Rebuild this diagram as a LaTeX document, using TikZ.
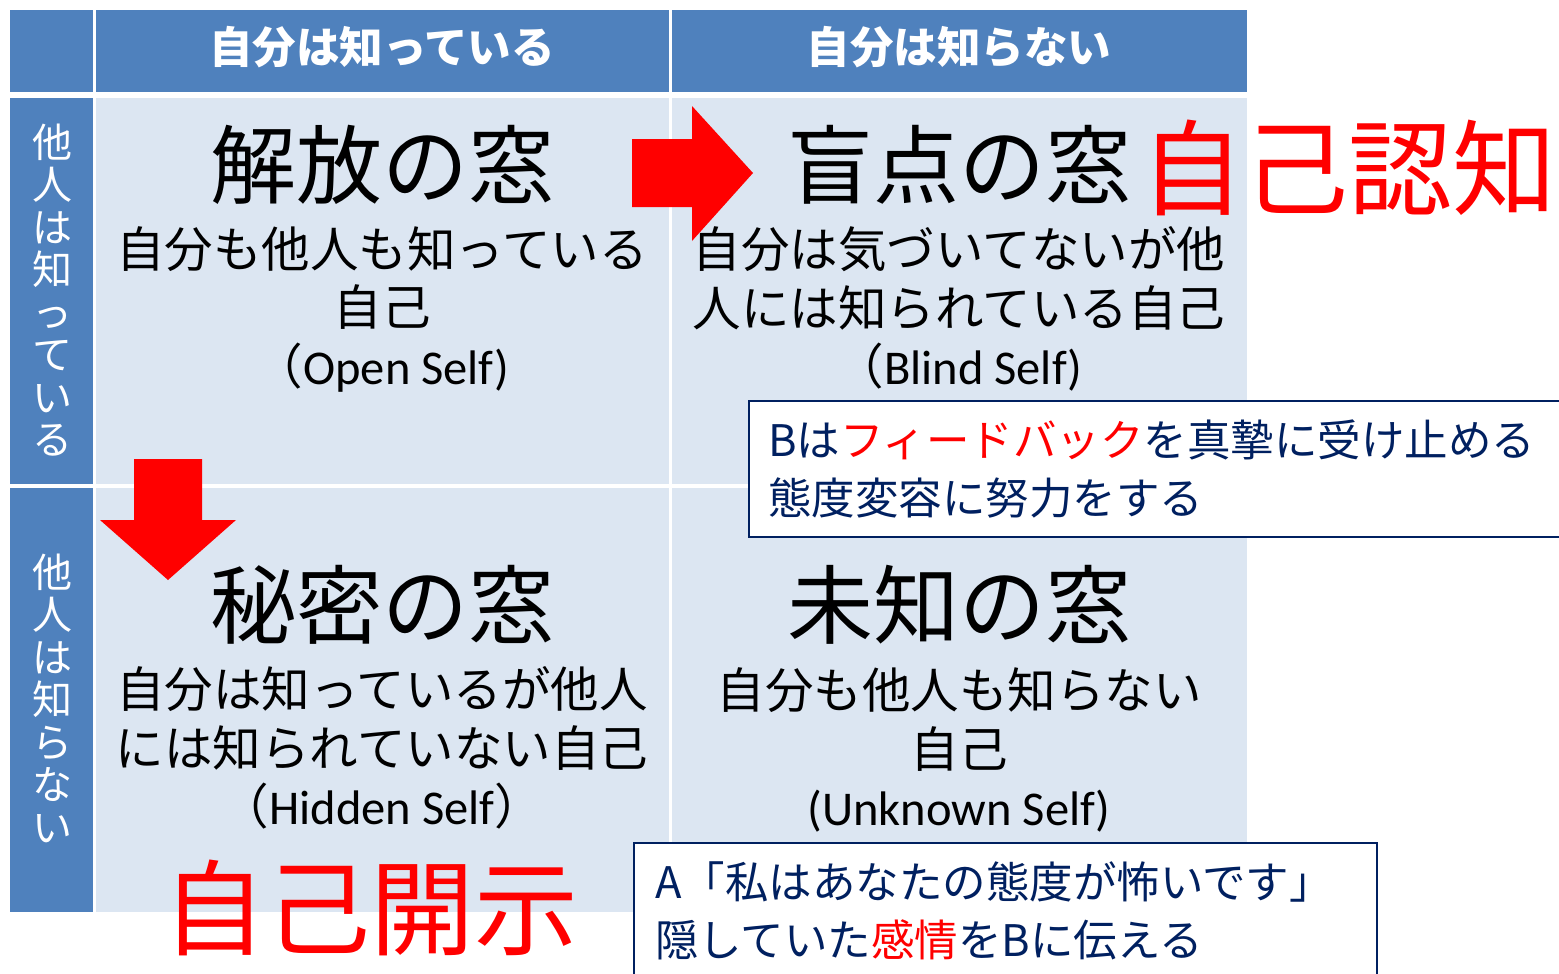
\documentclass[tikz,border=0pt]{standalone}
\usepackage{fontspec}
\setmainfont{Noto Sans CJK JP}
\newfontfamily\lat{Carlito}
\definecolor{hdr}{HTML}{4F81BD}
\definecolor{cellbg}{HTML}{DCE6F2}
\definecolor{navy}{HTML}{002060}
\definecolor{bred}{HTML}{FF0000}
\begin{document}
\begin{tikzpicture}[x=1pt,y=-1pt,
  hdrtext/.style={text=white,font=\fontsize{43.5}{46}\selectfont\bfseries,inner sep=0pt},
  vlabel/.style={text=white,font=\fontsize{40}{42.5}\selectfont,align=center,inner sep=0pt},
  titletext/.style={text=black,font=\fontsize{86}{90}\selectfont,inner sep=0pt},
  subtext/.style={text=black,font=\fontsize{48.5}{58.5}\selectfont,align=center,inner sep=0pt},
  bigred/.style={text=bred,font=\fontsize{104}{110}\selectfont,inner sep=0pt},
  notebox/.style={draw=navy,line width=1.5pt,fill=white},
  notetext/.style={text=navy,font=\fontsize{43.5}{58}\selectfont,align=left,inner sep=0pt,anchor=west},
  redarrow/.style={fill=bred,draw=none}]
\clip (0,0) rectangle (1559,974);
\fill[white] (0,0) rectangle (1559,974);
% header row
\fill[hdr] (10,10) rectangle (93,92);
\fill[hdr] (96,10) rectangle (669,92);
\fill[hdr] (672,10) rectangle (1247,92);
% left labels
\fill[hdr] (10,98) rectangle (93,484);
\fill[hdr] (10,488) rectangle (93,912);
% body cells
\fill[cellbg] (96,98) rectangle (669,484);
\fill[cellbg] (672,98) rectangle (1247,484);
\fill[cellbg] (96,488) rectangle (669,912);
\fill[cellbg] (672,488) rectangle (1247,912);
% header texts
\node[hdrtext] (h1) at (382,47) {自分は知っている};
\node[hdrtext] (h2) at (959,47) {自分は知らない};
% vertical labels
\node[vlabel] (v1) at (52,290) {他\\人\\は\\知\\っ\\て\\い\\る};
\node[vlabel] (v2) at (52,698) {他\\人\\は\\知\\ら\\な\\い};
% arrows
\fill[redarrow] (632,139) -- (692,139) -- (692,106) -- (753,173) -- (692,241) -- (692,207) -- (632,207) -- cycle;
\fill[redarrow] (134,459) -- (202,459) -- (202,520) -- (236,520) -- (168,580) -- (100,520) -- (134,520) -- cycle;
% quadrant texts
\node[titletext] (t1) at (382,165) {解放の窓};
\node[subtext] (s1) at (382,309) {自分も他人も知っている\\自己\\（{\lat Open Self)}};
\node[titletext] (t2) at (959,165) {盲点の窓};
\node[subtext] (s2) at (959,309) {自分は気づいてないが他\\人には知られている自己\\（{\lat Blind Self)}};
\node[titletext] (t3) at (382,605) {秘密の窓};
\node[subtext] (s3) at (382,748) {自分は知っているが他人\\には知られていない自己\\（{\lat Hidden Self}）};
\node[titletext] (t4) at (959,605) {未知の窓};
\node[subtext] (s4) at (959,750) {自分も他人も知らない\\自己\\{\lat (Unknown Self)}};
% note boxes
\draw[notebox] (749,401) rectangle (1575,537);
\node[notetext] (n1) at (768,469) {B{}は\textcolor{bred}{フィードバック}を真摯に受け止める\\態度変容に努力をする};
\draw[notebox] (634,843) rectangle (1377,990);
\node[notetext] (n2) at (655,911) {A「私はあなたの態度が怖いです」\\隠していた\textcolor{bred}{感情}をBに伝える};
% big red labels
\node[bigred] (r1) at (1348,168) {自己認知};
\node[bigred] (r2) at (370,908) {自己開示};
\end{tikzpicture}
\end{document}
